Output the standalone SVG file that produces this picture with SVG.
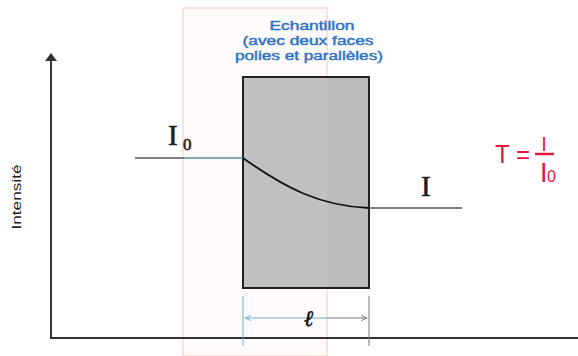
<svg xmlns="http://www.w3.org/2000/svg" width="578" height="356" viewBox="0 0 578 356">
<style>
.ax{stroke:#333;stroke-width:2;fill:none}
.ln{stroke:#555;stroke-width:1.5;fill:none}
.dim{stroke:#6aaed0;stroke-width:1;fill:none}
.blue{font-family:"Liberation Sans",Arial,sans-serif;font-size:13px;fill:#2f73c8;stroke:#2f73c8;stroke-width:0.45;text-anchor:middle}
.serif{font-family:"Liberation Serif","Times New Roman",serif;fill:#222;stroke:#222;stroke-width:0.6}
.red{font-family:"Liberation Sans",Arial,sans-serif;fill:#e3183c}
</style>
<defs>
<marker id="ahb" viewBox="0 0 10 10" refX="9" refY="5" markerWidth="7" markerHeight="7" orient="auto-start-reverse" markerUnits="userSpaceOnUse"><path d="M0,1 L9,5 L0,9" fill="none" stroke="#6aaed0" stroke-width="1.2"/></marker>
<marker id="ahg" viewBox="0 0 10 10" refX="9" refY="5" markerWidth="7" markerHeight="7" orient="auto" markerUnits="userSpaceOnUse"><path d="M0,1 L9,5 L0,9" fill="none" stroke="#777" stroke-width="1.2"/></marker>
</defs>
<rect x="183" y="8" width="144" height="348" fill="#fffbfa" stroke="#f8dcd2" stroke-width="1.5"/>
<g id="sample">
<rect x="243" y="77" width="126" height="211" fill="#bcbcbc" stroke="#222" stroke-width="2"/>
<rect x="244" y="78" width="83" height="209" fill="#ffffff" opacity="0.08"/>
</g>
<g id="label-sample">
<text class="blue" x="312" y="30" textLength="85" lengthAdjust="spacingAndGlyphs">Echantillon</text>
<text class="blue" x="308" y="45" textLength="131" lengthAdjust="spacingAndGlyphs">(avec deux faces</text>
<text class="blue" x="309" y="60" textLength="148" lengthAdjust="spacingAndGlyphs">polies et parallèles)</text>
</g>
<g id="axes">
<line class="ax" x1="51" y1="338" x2="51" y2="58"/>
<polygon points="51,53 45,61 57,61" fill="#333"/>
<line class="ax" x1="50" y1="338" x2="578" y2="338"/>
<text x="21" y="197" transform="rotate(-90 21 197)" font-family="Liberation Sans,Arial,sans-serif" font-size="13" fill="#222" text-anchor="middle" textLength="65" lengthAdjust="spacingAndGlyphs">Intensité</text>
</g>
<g id="connectors">
<line class="ln" x1="135" y1="158" x2="184" y2="158"/>
<line x1="184" y1="158" x2="243" y2="158" stroke="#5f8fa0" stroke-width="1.5"/>
<path d="M243,158 C285,188 320,206 369,208" stroke="#111" stroke-width="1.8" fill="none"/>
<line class="ln" x1="369" y1="208" x2="462" y2="208"/>
<line class="dim" x1="243" y1="296" x2="243" y2="346"/>
<line x1="369" y1="296" x2="369" y2="346" stroke="#777" stroke-width="1"/>
<line class="dim" x1="245" y1="318" x2="327" y2="318" marker-start="url(#ahb)"/>
<line x1="327" y1="318" x2="367" y2="318" stroke="#777" stroke-width="1" marker-end="url(#ahg)"/>
</g>
<g id="label-I0">
<text class="serif" x="168" y="145" font-size="29">I</text>
<text class="serif" x="183" y="150" font-size="17">0</text>
</g>
<g id="label-I">
<text class="serif" x="421" y="196" font-size="29">I</text>
</g>
<g id="label-l">
<text x="309" y="326" font-family="Liberation Serif,serif" font-style="italic" font-weight="bold" font-size="22" fill="#111" stroke="#111" stroke-width="0.5" text-anchor="middle">ℓ</text>
</g>
<g id="formula">
<text class="red" x="495" y="163" font-size="26" textLength="35" lengthAdjust="spacingAndGlyphs">T =</text>
<line x1="535" y1="154" x2="554" y2="154" stroke="#e3183c" stroke-width="2.5"/>
<text class="red" x="544" y="151" font-size="20" text-anchor="middle">I</text>
<text class="red" x="540" y="182" font-size="27">I</text>
<text class="red" x="547" y="182" font-size="16">0</text>
</g>
</svg>
